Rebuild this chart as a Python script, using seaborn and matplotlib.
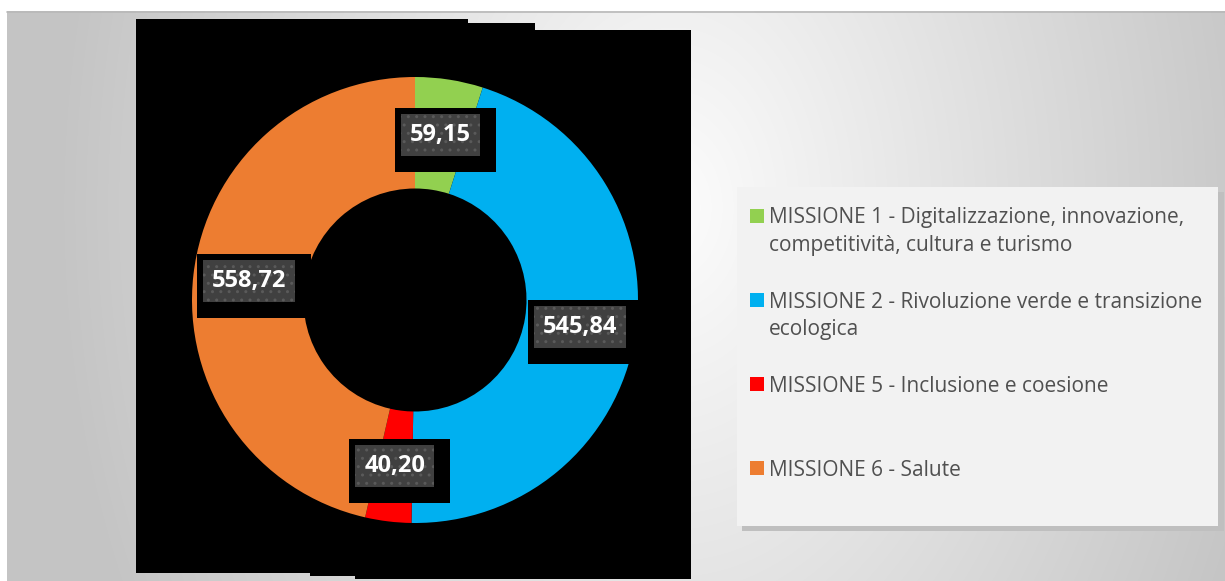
import numpy as np
import matplotlib
matplotlib.use("Agg")
import matplotlib.pyplot as plt
import seaborn as sns
from matplotlib.patches import Rectangle, Polygon

# dati
missioni = [
    ["MISSIONE 1 - Digitalizzazione, innovazione,", "competitività, cultura e turismo"],
    ["MISSIONE 2 - Rivoluzione verde e transizione", "ecologica"],
    ["MISSIONE 5 - Inclusione e coesione"],
    ["MISSIONE 6 - Salute"],
]
valori = [59.15, 545.84, 40.20, 558.72]
colori = ["#92d050", "#00b0f0", "#ff0000", "#ed7d31"]

sns.set_theme(style="white")
plt.rcParams["font.family"] = ["Open Sans", "DejaVu Sans"]

W, H = 1225, 581
fig = plt.figure(figsize=(W / 100, H / 100), dpi=100)

# sfondo in coordinate pixel
bg = fig.add_axes([0, 0, 1, 1])
bg.set_xlim(0, W)
bg.set_ylim(H, 0)
bg.axis("off")

yy, xx = np.mgrid[0:H, 0:W]
d = np.sqrt(((xx - 670) / 620.0) ** 2 + ((yy - 200) / 900.0) ** 2)
lum = 0.99 - 0.22 * np.clip(d, 0, 1)
img = np.dstack([lum, lum, lum])
bg.imshow(img, extent=(7, W, H, 11), aspect="auto", zorder=0)
bg.plot([7, W], [11.5, 11.5], color="#b8b8b8", lw=1.2, zorder=1)

# area nera dietro il grafico
nero = [(136, 19), (468, 19), (468, 23), (535, 23), (535, 30), (691, 30),
        (691, 579), (355, 579), (355, 576), (310, 576), (310, 573), (136, 573)]
bg.add_patch(Polygon(nero, closed=True, facecolor="black", edgecolor="none", zorder=2))

# ciambella
cx, cy, R = 415, 300, 223
ax = fig.add_axes([(cx - R) / W, (H - cy - R) / H, 2 * R / W, 2 * R / H])
palette = sns.color_palette(colori)
wedges, _ = ax.pie(valori, colors=palette, startangle=90, counterclock=False,
                   radius=1, wedgeprops=dict(width=0.5, linewidth=0))
ax.set_xlim(-1, 1)
ax.set_ylim(-1, 1)
ax.axis("off")

etichette = []
for w, v in zip(wedges, valori):
    ang = np.deg2rad((w.theta1 + w.theta2) / 2)
    x, y = 0.75 * np.cos(ang), 0.75 * np.sin(ang)
    testo = f"{v:.2f}".replace(".", ",")
    t = ax.annotate(testo, xy=(x, y), ha="center", va="center", fontsize=17,
                    fontweight="bold", color="white", zorder=6,
                    bbox=dict(boxstyle="square,pad=0.38", facecolor="#404040",
                              edgecolor="#5a5a5a", linewidth=0, hatch=".."))
    etichette.append(t)

# riquadri neri dietro le etichette
fig.canvas.draw()
rend = fig.canvas.get_renderer()
for t in etichette:
    bb = t.get_bbox_patch().get_window_extent(rend)
    x0, x1 = bb.x0 - 6, bb.x1 + 16
    ytop, ybot = H - bb.y1 - 6, H - bb.y0 + 16
    ax.add_patch(Rectangle((x0, H - ybot), x1 - x0, ybot - ytop,
                           transform=None, facecolor="black",
                           edgecolor="none", zorder=5))

# legenda
bg.add_patch(Rectangle((742, 192), 482, 339, facecolor="#bfbfbf",
                       edgecolor="none", zorder=3))
bg.add_patch(Rectangle((737, 187), 481, 339, facecolor="#f2f2f2",
                       edgecolor="none", zorder=4))
for i, (righe, col) in enumerate(zip(missioni, palette)):
    ytop = 216 + 84 * i
    bg.add_patch(Rectangle((750, ytop - 7), 14, 14, facecolor=col,
                           edgecolor="none", zorder=5))
    for k, riga in enumerate(righe):
        bg.text(769, ytop + 7.5 + 28 * k, riga, ha="left", va="baseline",
                fontsize=15, color="#505050", zorder=5)

fig.savefig("out.png", dpi=100)
